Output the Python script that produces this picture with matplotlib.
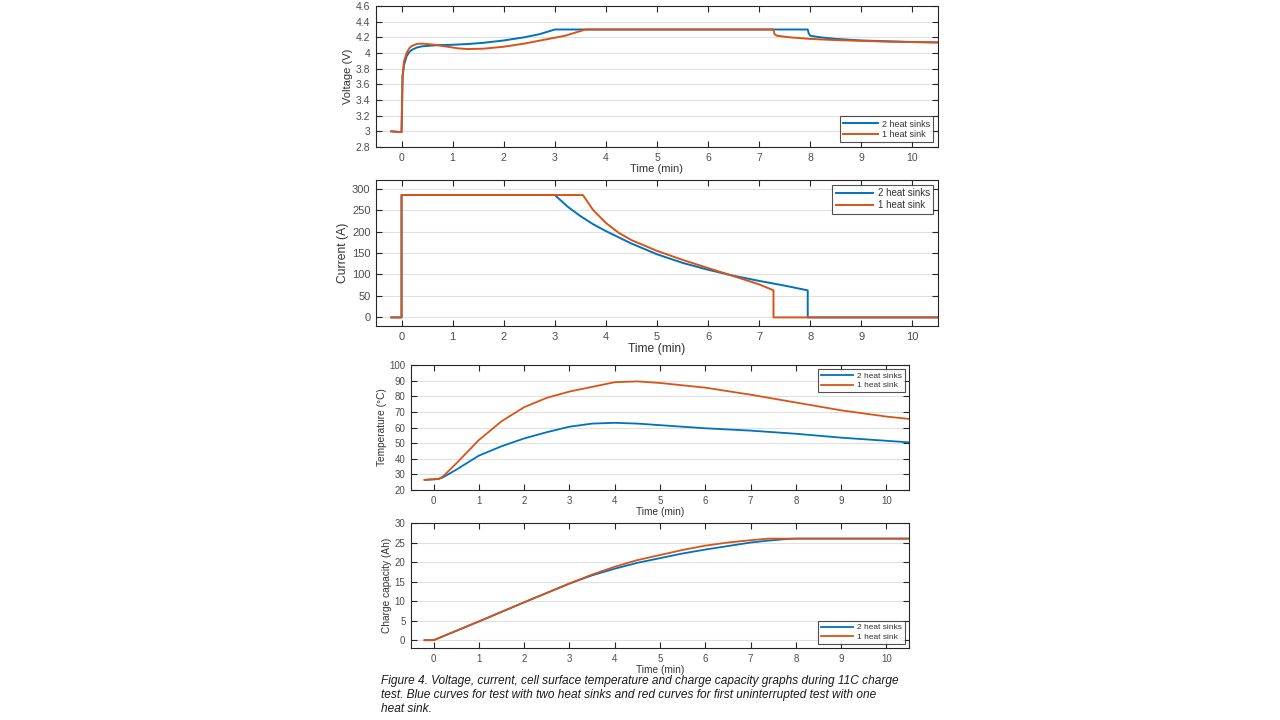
import matplotlib
matplotlib.use("Agg")
import matplotlib.pyplot as plt

plt.rcParams['font.family'] = ['Liberation Sans', 'DejaVu Sans']

BLUE = '#0072BD'
RED = '#D95319'
LABELS = ['2 heat sinks', '1 heat sink']

# ---------------- data ----------------
v_t_blue = [-0.2, -0.05, 0.0, 0.02, 0.05, 0.1, 0.15, 0.2, 0.3, 0.4, 0.5, 0.7, 1.0, 1.3, 1.6, 2.0,
            2.4, 2.7, 3.0, 7.95, 7.97, 8.0, 8.2, 8.5, 9.0, 9.5, 10.0, 10.5]
v_blue = [3.0, 2.99, 2.99, 3.7, 3.85, 3.96, 4.01, 4.04, 4.07, 4.085, 4.09, 4.1, 4.105, 4.115, 4.13, 4.16,
          4.2, 4.24, 4.3, 4.3, 4.25, 4.22, 4.2, 4.18, 4.16, 4.15, 4.14, 4.135]
v_t_red = [-0.2, 0.0, 0.02, 0.05, 0.1, 0.15, 0.2, 0.3, 0.4, 0.5, 0.7, 0.9, 1.1, 1.3, 1.6, 2.0, 2.4,
           2.8, 3.2, 3.6, 7.28, 7.3, 7.35, 7.6, 8.0, 8.5, 9.0, 9.5, 10.0, 10.5]
v_red = [3.0, 2.99, 3.7, 3.9, 4.0, 4.06, 4.09, 4.115, 4.12, 4.115, 4.1, 4.08, 4.06, 4.05, 4.055, 4.08, 4.12,
         4.17, 4.22, 4.3, 4.3, 4.24, 4.22, 4.2, 4.18, 4.165, 4.155, 4.145, 4.14, 4.135]

i_t_blue = [-0.2, 0.0, 0.0, 3.0, 3.25, 3.5, 3.75, 4.0, 4.5, 5.0, 5.5, 6.0, 6.5, 7.0, 7.5, 7.95, 7.95, 10.5]
i_blue = [0, 0, 285, 285, 258, 236, 217, 201, 172, 147, 127, 111, 97, 85, 74, 63, 0, 0]
i_t_red = [-0.2, 0.0, 0.0, 3.55, 3.75, 4.0, 4.25, 4.5, 5.0, 5.5, 6.0, 6.5, 7.0, 7.28, 7.28, 10.5]
i_red = [0, 0, 285, 285, 250, 220, 197, 180, 155, 134, 115, 96, 77, 63, 0, 0]

T_t = [-0.2, 0.1, 0.2, 0.5, 1.0, 1.5, 2.0, 2.5, 3.0, 3.5, 4.0, 4.5, 5.0, 6.0, 7.0, 8.0, 9.0, 10.0, 10.5]
T_blue = [26.5, 27, 28, 33, 42, 48, 53, 57, 60.5, 62.5, 63, 62.5, 61.5, 59.5, 58, 56, 53.5, 51.5, 50.5]
T_red = [26.5, 27, 28.5, 37, 52, 64, 73, 79, 83, 86, 89, 89.5, 88.5, 85.5, 81, 76, 71, 67, 65.5]

q_t = [-0.2, 0.0, 1.0, 2.0, 3.0, 3.5, 4.0, 4.5, 5.0, 5.5, 6.0, 6.5, 7.0, 7.4, 7.8, 8.0, 10.5]
q_blue = [0, 0, 4.8, 9.7, 14.5, 16.6, 18.3, 19.8, 21.0, 22.2, 23.2, 24.1, 25.0, 25.5, 25.9, 26.0, 26.0]
q_red = [0, 0, 4.8, 9.7, 14.5, 16.8, 18.8, 20.5, 21.8, 23.1, 24.2, 25.0, 25.6, 26.0, 26.0, 26.0, 26.0]

x_ticks = list(range(0, 11))

# ---------------- figure ----------------
W, H = 1280, 720
fig = plt.figure(figsize=(12.8, 7.2), dpi=100)


def make_ax(x0, y0, x1, y1):
    return fig.add_axes([x0 / W, 1 - y1 / H, (x1 - x0) / W, (y1 - y0) / H])


def style(ax, ylim, yticks, ylabel, fs, lfs, legfs, legend_loc):
    ax.set_xlim(-0.5, 10.5)
    ax.set_ylim(*ylim)
    ax.set_xticks(x_ticks)
    ax.set_yticks(yticks)
    ax.set_yticklabels([('%g' % v) for v in yticks])
    ax.tick_params(direction='in', top=True, right=True, length=4, width=0.8,
                   labelsize=fs, colors='#262626', labelcolor='#4d4d4d', pad=4)
    ax.yaxis.grid(True, color='#e0e0e0', linewidth=0.8)
    ax.set_axisbelow(True)
    for s in ax.spines.values():
        s.set_color('#262626')
        s.set_linewidth(0.8)
    ax.set_xlabel('Time (min)', fontsize=lfs, color='#333333', labelpad=1)
    ax.set_ylabel(ylabel, fontsize=lfs, color='#333333', labelpad=2)
    leg = ax.legend(loc=legend_loc, fontsize=legfs, frameon=True, fancybox=False,
                    handlelength=3.8, borderpad=0.35, labelspacing=0.2, handletextpad=0.5,
                    borderaxespad=0.5)
    leg.get_frame().set_edgecolor('#262626')
    leg.get_frame().set_linewidth(0.8)
    for t in leg.get_texts():
        t.set_color('#333333')


# Panel 1: voltage
ax1 = make_ax(376, 6, 938, 147)
ax1.plot(v_t_blue, v_blue, color=BLUE, lw=1.4, label=LABELS[0])
ax1.plot(v_t_red, v_red, color=RED, lw=1.4, label=LABELS[1])
style(ax1, (2.8, 4.6), [2.8, 3.0, 3.2, 3.4, 3.6, 3.8, 4.0, 4.2, 4.4, 4.6], 'Voltage (V)', 7.5, 8, 6.5,
      'lower right')

# Panel 2: current
ax2 = make_ax(376, 180, 938, 326)
ax2.plot(i_t_blue, i_blue, color=BLUE, lw=1.4, label=LABELS[0])
ax2.plot(i_t_red, i_red, color=RED, lw=1.4, label=LABELS[1])
style(ax2, (-20, 320), [0, 50, 100, 150, 200, 250, 300], 'Current (A)', 8, 8.7, 7,
      'upper right')

# Panel 3: temperature
ax3 = make_ax(411, 365, 909, 490)
ax3.plot(T_t, T_blue, color=BLUE, lw=1.3, label=LABELS[0])
ax3.plot(T_t, T_red, color=RED, lw=1.3, label=LABELS[1])
style(ax3, (20, 100), [20, 30, 40, 50, 60, 70, 80, 90, 100], 'Temperature (°C)', 7, 7.3, 6,
      'upper right')

# Panel 4: charge capacity
ax4 = make_ax(411, 523, 909, 648)
ax4.plot(q_t, q_blue, color=BLUE, lw=1.3, label=LABELS[0])
ax4.plot(q_t, q_red, color=RED, lw=1.3, label=LABELS[1])
style(ax4, (-2, 30), [0, 5, 10, 15, 20, 25, 30], 'Charge capacity (Ah)', 7, 7.3, 6,
      'lower right')

caption = ("Figure 4. Voltage, current, cell surface temperature and charge capacity graphs during 11C charge\n"
           "test. Blue curves for test with two heat sinks and red curves for first uninterrupted test with one\n"
           "heat sink.")
fig.text(381 / W, 1 - 675 / H, caption, ha='left', va='top', fontsize=8.6, style='italic',
         color='#1a1a1a', linespacing=1.2)

fig.savefig('out.png', dpi=100, facecolor='white')
